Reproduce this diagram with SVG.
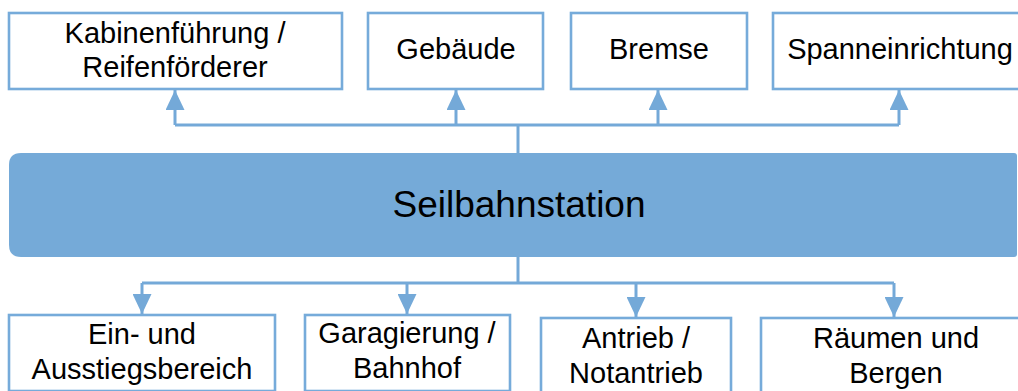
<svg xmlns="http://www.w3.org/2000/svg" width="1018" height="391" viewBox="0 0 1018 391">
  <style>
    .box { fill: #ffffff; stroke: #76ABDA; stroke-width: 2.6; }
    .hub { fill: #75AAD8; stroke: none; }
    .lbl { font-family: "Liberation Sans", Arial, sans-serif; font-size: 29px; fill: #000000; text-anchor: middle; }
    .hubl { font-family: "Liberation Sans", Arial, sans-serif; font-size: 37px; fill: #000000; text-anchor: middle; }
    .wire { fill: none; stroke: #74A9D8; stroke-width: 3; }
  </style>
  <defs>
    <marker id="tip" viewBox="0 0 20 19" refX="20" refY="9.5" markerWidth="20" markerHeight="19" markerUnits="userSpaceOnUse" orient="auto">
      <path d="M0,0 L20,9.5 L0,19 Z" fill="#74A9D8"/>
    </marker>
  </defs>

  <!-- connectors -->
  <g id="connectors">
    <!-- upper bus -->
    <path class="wire" d="M518,153 V125"/>
    <path class="wire" d="M175,125 H899"/>
    <path class="wire" d="M175,125 V90" marker-end="url(#tip)"/>
    <path class="wire" d="M456,125 V90" marker-end="url(#tip)"/>
    <path class="wire" d="M658,125 V90" marker-end="url(#tip)"/>
    <path class="wire" d="M899,125 V90" marker-end="url(#tip)"/>
    <!-- lower bus -->
    <path class="wire" d="M518,257 V283"/>
    <path class="wire" d="M142,283 H894"/>
    <path class="wire" d="M142,283 V314" marker-end="url(#tip)"/>
    <path class="wire" d="M407,283 V314" marker-end="url(#tip)"/>
    <path class="wire" d="M636,283 V317" marker-end="url(#tip)"/>
    <path class="wire" d="M894,283 V317" marker-end="url(#tip)"/>
  </g>

  <!-- upper row -->
  <g id="kabinenfuehrung">
    <rect class="box" x="9" y="13" width="333" height="76"/>
    <text class="lbl" x="175" y="43">Kabinenführung /</text>
    <text class="lbl" x="175" y="77">Reifenförderer</text>
  </g>
  <g id="gebaeude">
    <rect class="box" x="368" y="13" width="175" height="76"/>
    <text class="lbl" x="456" y="59">Gebäude</text>
  </g>
  <g id="bremse">
    <rect class="box" x="571" y="13" width="176" height="76"/>
    <text class="lbl" x="659" y="59">Bremse</text>
  </g>
  <g id="spanneinrichtung">
    <rect class="box" x="773" y="13" width="255" height="76"/>
    <text class="lbl" x="900" y="59">Spanneinrichtung</text>
  </g>

  <!-- central station -->
  <g id="seilbahnstation">
    <path class="hub" d="M21,153 H1014 Q1017,153 1017,156 V254 Q1017,257 1014,257 H21 Q9,257 9,245 V165 Q9,153 21,153 Z"/>
    <text class="hubl" x="519" y="217">Seilbahnstation</text>
  </g>

  <!-- lower row -->
  <g id="einstieg">
    <rect class="box" x="9" y="315" width="266" height="76"/>
    <text class="lbl" x="142" y="344">Ein- und</text>
    <text class="lbl" x="142" y="379">Ausstiegsbereich</text>
  </g>
  <g id="garagierung">
    <rect class="box" x="305" y="315" width="205" height="76"/>
    <text class="lbl" x="407" y="343">Garagierung /</text>
    <text class="lbl" x="407" y="378">Bahnhof</text>
  </g>
  <g id="antrieb">
    <rect class="box" x="541" y="318" width="190" height="76"/>
    <text class="lbl" x="636" y="348">Antrieb /</text>
    <text class="lbl" x="636" y="383">Notantrieb</text>
  </g>
  <g id="raeumen">
    <rect class="box" x="761" y="318" width="270" height="76"/>
    <text class="lbl" x="896" y="348">Räumen und</text>
    <text class="lbl" x="896" y="383">Bergen</text>
  </g>
</svg>
